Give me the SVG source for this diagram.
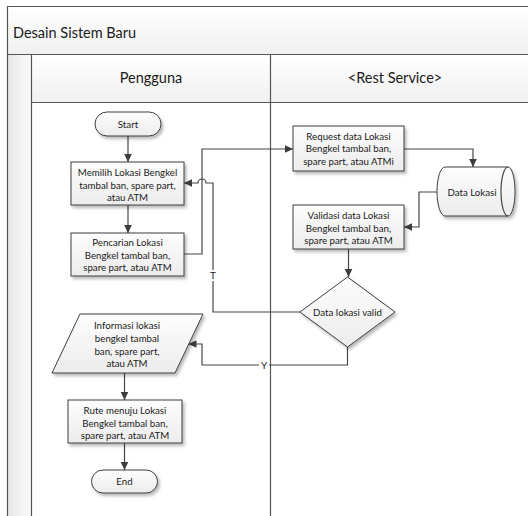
<svg xmlns="http://www.w3.org/2000/svg" width="528" height="516" viewBox="0 0 528 516">
  <defs>
    <linearGradient id="hdr" x1="0" y1="0" x2="0" y2="1">
      <stop offset="0" stop-color="#ffffff"/>
      <stop offset="1" stop-color="#f0f0f0"/>
    </linearGradient>
    <linearGradient id="side" x1="0" y1="0" x2="1" y2="0">
      <stop offset="0" stop-color="#e6e6e6"/>
      <stop offset="1" stop-color="#fbfbfb"/>
    </linearGradient>
    <linearGradient id="node" x1="0" y1="0" x2="0" y2="1">
      <stop offset="0" stop-color="#fdfdfd"/>
      <stop offset="1" stop-color="#ececec"/>
    </linearGradient>
    <filter id="shadow" x="-20%" y="-20%" width="140%" height="150%">
      <feDropShadow dx="2" dy="2.5" stdDeviation="1.5" flood-color="#000" flood-opacity="0.28"/>
    </filter>
    <marker id="arrow" markerWidth="10" markerHeight="10" refX="9" refY="5" orient="auto" markerUnits="userSpaceOnUse">
      <path d="M1,1.2 L9,5 L1,8.8 Z" fill="#3c3c3c"/>
    </marker>
  </defs>
  <style>
    .line { fill: none; stroke: #454545; stroke-width: 1.2; }
    .frame { fill: none; stroke: #555555; stroke-width: 1.2; }
    .shape { fill: url(#node); stroke: #3f3f3f; stroke-width: 1; filter: url(#shadow); }
    .t { font-family: Lato, "Liberation Sans", sans-serif; font-size: 9.7px; fill: #1a1a1a; text-anchor: middle; }
    .h { font-family: Lato, "Liberation Sans", sans-serif; font-size: 14.5px; fill: #1a1a1a; }
    .lbl { font-family: Lato, "Liberation Sans", sans-serif; font-size: 10px; fill: #1a1a1a; text-anchor: middle; }
  </style>

  <!-- swimlane pool -->
  <g id="pool">
    <rect x="7.5" y="6.5" width="530" height="48" fill="url(#hdr)"/>
    <rect x="7.5" y="54.5" width="24" height="470" fill="url(#side)"/>
    <rect x="31.5" y="54.5" width="239" height="48" fill="url(#hdr)"/>
    <rect x="270.5" y="54.5" width="267" height="48" fill="url(#hdr)"/>
    <rect x="31.5" y="102.5" width="506" height="420" fill="#ffffff"/>
    <path class="frame" d="M7.5,520 V6.5 H530 M7.5,54.5 H530 M31.5,54.5 V520 M270.5,54.5 V520 M31.5,102.5 H530"/>
    <text class="h" x="13" y="38">Desain Sistem Baru</text>
    <text class="h" x="151" y="83" text-anchor="middle">Pengguna</text>
    <text class="h" x="395" y="83" text-anchor="middle">&lt;Rest Service&gt;</text>
  </g>

  <!-- connectors -->
  <g id="connectors">
    <path class="line" d="M128,136 V162" marker-end="url(#arrow)"/>
    <path class="line" d="M128,205 V233" marker-end="url(#arrow)"/>
    <path class="line" d="M184,254 H202 V149 H293" marker-end="url(#arrow)"/>
    <path class="line" d="M404,149 H473 V167" marker-end="url(#arrow)"/>
    <path class="line" d="M437,192 H419 V227 H404" marker-end="url(#arrow)"/>
    <path class="line" d="M348.5,249 V277" marker-end="url(#arrow)"/>
    <!-- "T" branch, hopping over the vertical segment at x=202 -->
    <path class="line" d="M300,312 H213 V281 M213,270 V183 H206 A4,4 0 0 0 198,183 H184" marker-end="url(#arrow)"/>
    <text class="lbl" x="213" y="279">T</text>
    <!-- "Y" branch -->
    <path class="line" d="M347.5,347 V365 H269 M259,365 H202 V344 H188.5" marker-end="url(#arrow)"/>
    <text class="lbl" x="264" y="368.5">Y</text>
    <path class="line" d="M124.5,373 V400" marker-end="url(#arrow)"/>
    <path class="line" d="M124.5,443 V470" marker-end="url(#arrow)"/>
  </g>

  <g id="start">
    <rect class="shape" x="95" y="112" width="66" height="24" rx="12" ry="12"/>
    <text class="t" x="128" y="127.5">Start</text>
  </g>

  <g id="memilih">
    <rect class="shape" x="71" y="162" width="113" height="43"/>
    <text class="t" x="127.5" y="175.5">Memilih Lokasi Bengkel</text>
    <text class="t" x="127.5" y="188.5">tambal ban, spare part,</text>
    <text class="t" x="127.5" y="200.5">atau ATM</text>
  </g>

  <g id="pencarian">
    <rect class="shape" x="71" y="233" width="113" height="43"/>
    <text class="t" x="127.5" y="245.5">Pencarian Lokasi</text>
    <text class="t" x="127.5" y="258.5">Bengkel tambal ban,</text>
    <text class="t" x="127.5" y="270.5">spare part, atau ATM</text>
  </g>

  <g id="request">
    <rect class="shape" x="293" y="126" width="111" height="45"/>
    <text class="t" x="348.5" y="139.5">Request data Lokasi</text>
    <text class="t" x="348.5" y="151.5">Bengkel tambal ban,</text>
    <text class="t" x="348.5" y="164.5">spare part, atau ATMi</text>
  </g>

  <g id="data-lokasi">
    <path class="shape" d="M445,167 H508 A7,24.5 0 0 1 508,216 H445 A8,24.5 0 0 1 445,167 Z"/>
    <path class="line" d="M508,167 A7,24.5 0 0 0 508,216" stroke-width="1"/>
    <text class="t" x="472" y="195.5">Data Lokasi</text>
  </g>

  <g id="validasi">
    <rect class="shape" x="293" y="205" width="111" height="44"/>
    <text class="t" x="348.5" y="218.5">Validasi data Lokasi</text>
    <text class="t" x="348.5" y="231.5">Bengkel tambal ban,</text>
    <text class="t" x="348.5" y="243.5">spare part, atau ATM</text>
  </g>

  <g id="decision">
    <path class="shape" d="M347.5,277 L395,312 L347.5,347 L300,312 Z"/>
    <text class="t" x="347.5" y="315.5">Data lokasi valid</text>
  </g>

  <g id="informasi">
    <path class="shape" d="M80,314 H203 L175,373 H52 Z"/>
    <text class="t" x="127" y="328.5">Informasi lokasi</text>
    <text class="t" x="127" y="341.5">bengkel tambal</text>
    <text class="t" x="127" y="354.5">ban, spare part,</text>
    <text class="t" x="127" y="366.5">atau ATM</text>
  </g>

  <g id="rute">
    <rect class="shape" x="68" y="400" width="114" height="43"/>
    <text class="t" x="125" y="413.5">Rute menuju Lokasi</text>
    <text class="t" x="125" y="426.5">Bengkel tambal ban,</text>
    <text class="t" x="125" y="438.5">spare part, atau ATM</text>
  </g>

  <g id="end">
    <rect class="shape" x="91.5" y="470" width="66" height="23" rx="11.5" ry="11.5"/>
    <text class="t" x="124.5" y="485">End</text>
  </g>
</svg>
